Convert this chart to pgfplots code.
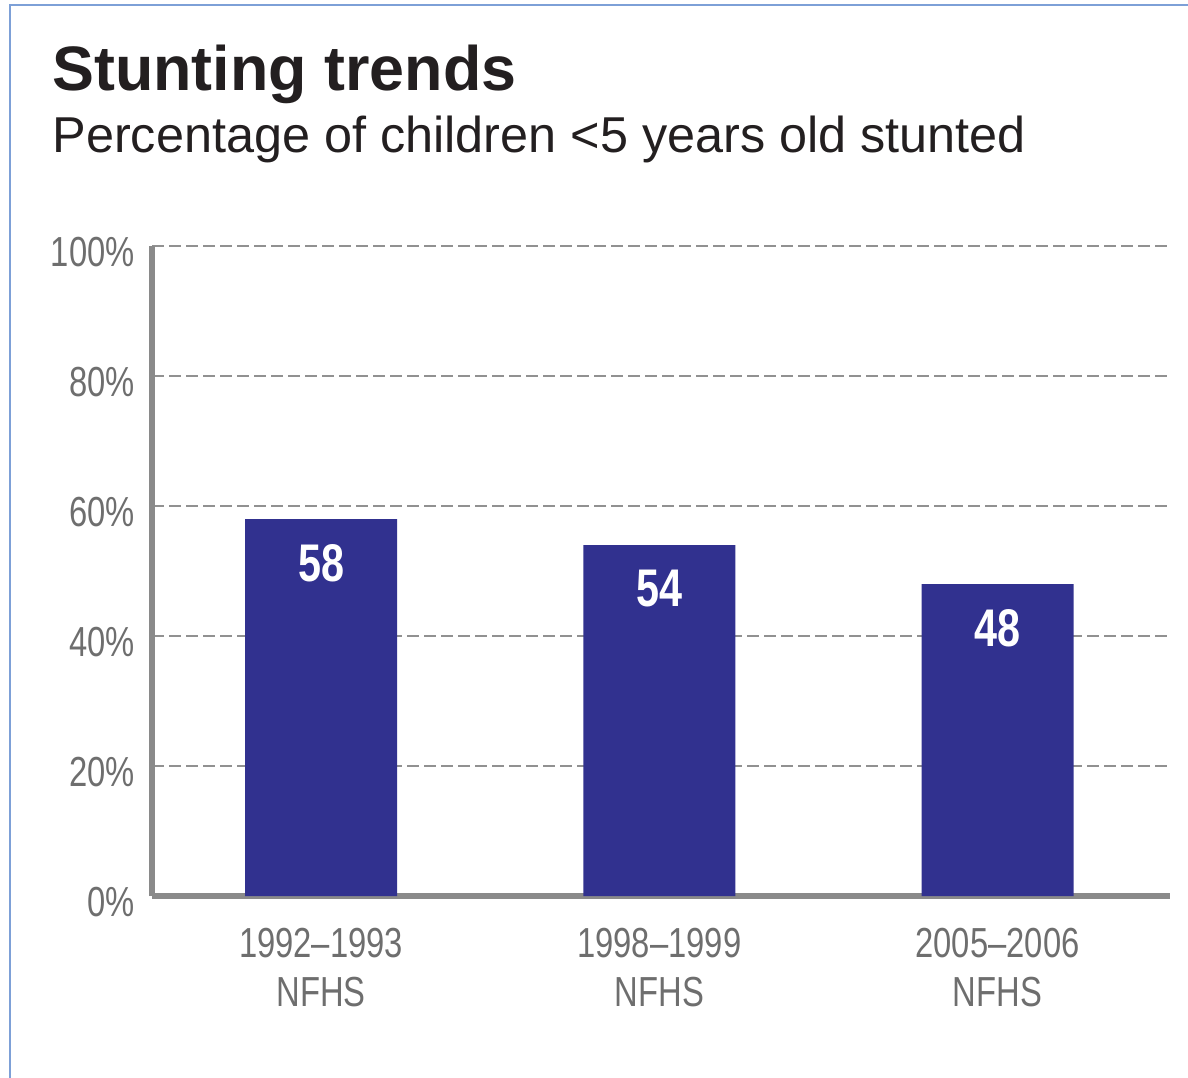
\documentclass[border=0pt]{standalone}
\usepackage{pgfplots}
\pgfplotsset{compat=1.18}
\usepackage{pgfplotstable}
\usepackage{fontspec}
\setmainfont{Liberation Sans}
\newfontfamily\condfont[FakeStretch=0.78, Ligatures=TeX]{Liberation Sans}
\definecolor{barblue}{RGB}{49,49,143}
\definecolor{axisgray}{RGB}{138,138,138}
\definecolor{gridgray}{RGB}{145,145,145}
\definecolor{ticktext}{RGB}{110,110,110}
\definecolor{framecol}{RGB}{125,160,215}
\definecolor{titlecol}{RGB}{35,31,32}
\pgfplotstableread{
x val
0 58
1 54
2 48
}\stunting
\begin{document}
\begin{tikzpicture}
\path[use as bounding box] (-76pt,-90.5pt) rectangle (518pt,448pt);
\draw[framecol, line width=1pt] (-71pt,-91pt) -- (-71pt,445.5pt) -- (519pt,445.5pt);
\begin{axis}[
  at={(0pt,0pt)}, anchor=south west,
  scale only axis, width=509pt, height=325pt,
  xmin=-0.5, xmax=2.51, ymin=0, ymax=100,
  axis x line=bottom, axis y line=left,
  axis line style={-, line width=3pt, color=axisgray},
  ytick={0,20,40,60,80,100},
  yticklabels={0\%,20\%,40\%,60\%,80\%,100\%},
  xtick={0,1,2},
  xticklabels={{1992–1993\\NFHS},{1998–1999\\NFHS},{2005–2006\\NFHS}},
  major tick length=0pt,
  yticklabel style={anchor=east, inner sep=0pt, xshift=-8.5pt, yshift=-3pt,
    font=\condfont\fontsize{21}{24.5}\selectfont, text=ticktext},
  xticklabel style={anchor=north, inner sep=0pt, yshift=-16pt, align=center,
    font=\condfont\fontsize{21}{24.5}\selectfont, text=ticktext},
  ymajorgrids,
  major grid style={dash pattern=on 6pt off 2.5pt, line width=1.3pt, color=gridgray},
  ybar, bar width=76pt,
  nodes near coords={\pgfmathprintnumber[assume math mode=true]{\pgfplotspointmeta}},
  every node near coord/.style={anchor=center, yshift=-22pt, text=white,
    font=\condfont\bfseries\fontsize{26.5}{30}\selectfont},
]
\addplot[fill=barblue, draw=none] table[x=x, y=val] {\stunting};
\end{axis}
\node[anchor=base west, inner sep=0pt, text=titlecol] at (-50pt,402.5pt)
  {\fontsize{31.4}{36}\selectfont\bfseries Stunting trends};
\node[anchor=base west, inner sep=0pt, text=titlecol] at (-50pt,371.5pt)
  {\fontsize{25.2}{28}\selectfont Percentage of children <5 years old stunted};
\end{tikzpicture}
\end{document}
